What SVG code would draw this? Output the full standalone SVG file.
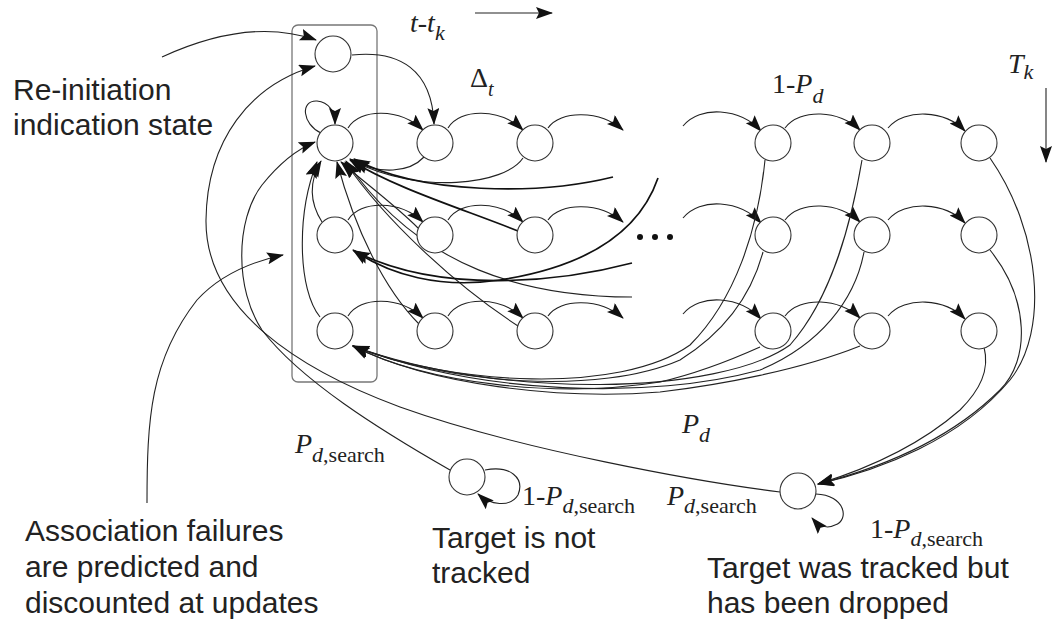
<svg xmlns="http://www.w3.org/2000/svg" width="1060" height="625" viewBox="0 0 1060 625">
<style>
.n{fill:#fff;stroke:#333;stroke-width:1.1}
.c{fill:none;stroke:#222;stroke-width:1.1}
.a{marker-end:url(#ah)}
.t{stroke:#111;stroke-width:1.7}
.lbl{font-family:"Liberation Sans",Arial,sans-serif;font-size:30px;fill:#222}
.m{font-family:"Liberation Serif","Times New Roman",serif;font-size:28px;fill:#222}
.i{font-style:italic}
</style>
<defs>
<marker id="ah" markerWidth="20" markerHeight="14" refX="16" refY="6" orient="auto" markerUnits="userSpaceOnUse"><path d="M0,0 L17,6 L0,12 L3,6 z" fill="#111"/></marker>
</defs>
<rect x="1" y="1" width="1058" height="623" fill="#fff" stroke="none"/>
<rect id="box" x="292" y="25" width="85" height="357" rx="6" fill="none" stroke="#777" stroke-width="1.3"/>
<g id="connectors">
<path class="c a" d="M475,13 L552,13"/>
<path class="c a" d="M1046,88 L1046,162"/>
<path class="c a" d="M348,128 C360,108 400,108 423,130"/>
<path class="c a" d="M448,128 C460,108 500,108 523,130"/>
<path class="c a" d="M548,128 C560,110 600,110 623,130"/>
<path class="c a" d="M683,126 C700,105 740,108 761,131"/>
<path class="c a" d="M785,128 C800,108 840,110 860,130"/>
<path class="c a" d="M888,128 C905,108 945,110 965,131"/>
<path class="c a" d="M348,220 C360,200 400,200 423,222"/>
<path class="c a" d="M448,220 C460,200 500,200 523,222"/>
<path class="c a" d="M548,220 C560,202 600,202 623,222"/>
<path class="c a" d="M683,218 C700,197 740,200 761,223"/>
<path class="c a" d="M785,220 C800,200 840,202 860,222"/>
<path class="c a" d="M888,220 C905,200 945,202 965,223"/>
<path class="c a" d="M348,316 C360,296 400,296 423,318"/>
<path class="c a" d="M448,316 C460,296 500,296 523,318"/>
<path class="c a" d="M548,316 C560,298 600,298 623,318"/>
<path class="c a" d="M683,314 C700,293 740,296 761,319"/>
<path class="c a" d="M785,316 C800,296 840,298 860,318"/>
<path class="c a" d="M888,316 C905,296 945,298 965,319"/>
<path class="c a" d="M162,57 C210,35 265,22 316,40"/>
<path class="c a" d="M352,55 C400,50 432,70 434,124"/>
<path class="c a" d="M321,133 C302,124 300,100 317,101 C329,102 335,112 335,124"/>
<path class="c a" d="M322,222 C308,200 310,180 321,161"/>
<path class="c a" d="M320,317 C298,290 296,215 317,162"/>
<path class="c a" d="M418,228 C395,205 365,183 341,162"/>
<path class="c a t" d="M518,231 C460,208 395,188 350,160"/>
<path class="c a" d="M419,324 C385,290 355,230 337,162"/>
<path class="c a" d="M518,326 C455,285 385,220 345,162"/>
<path class="c a" d="M424,157 C410,172 380,176 350,159"/>
<path class="c a" d="M523,158 C505,185 420,195 353,161"/>
<path class="c a t" d="M613,177 C540,195 420,195 354,159"/>
<path class="c a" d="M632,297 C530,297 420,270 346,161"/>
<path class="c a t" d="M658,178 C640,230 590,266 500,280 C440,289 390,275 353,250"/>
<path class="c a t" d="M632,263 C560,282 440,295 354,251"/>
<path class="c a" d="M765,160 C758,230 735,300 690,345 C620,395 450,385 353,346"/>
<path class="c a" d="M862,160 C850,230 830,300 790,345 C720,395 500,400 353,346"/>
<path class="c a" d="M763,252 C750,300 720,335 680,360 C600,395 450,385 353,346"/>
<path class="c a" d="M864,252 C855,300 820,345 760,370 C650,400 480,395 353,346"/>
<path class="c a" d="M760,347 C720,365 690,375 660,382 C560,398 430,385 353,346"/>
<path class="c a" d="M860,346 C800,370 720,385 660,392 C560,400 430,385 353,346"/>
<path class="c a" d="M990,158 C1040,230 1050,330 1010,380 C960,440 880,470 818,484"/>
<path class="c a" d="M990,250 C1030,300 1030,360 1000,390 C950,440 880,468 818,484"/>
<path class="c a" d="M984,347 C990,370 980,390 960,410 C920,445 870,468 818,484"/>
<path class="c a" d="M780,492 C700,482 520,450 400,407 C300,370 205,310 206,220 C207,140 250,85 315,66"/>
<path class="c a" d="M450,470 C380,430 300,380 262,330 C235,290 235,220 262,185 C278,165 295,150 315,142"/>
<path class="c a" d="M147,503 C147,420 150,360 197,300 C220,275 250,262 283,255"/>
<path class="c a" d="M485,470 C510,465 525,478 518,495 C510,508 490,505 478,494"/>
<path class="c a" d="M816,494 C845,495 850,520 835,525 C825,530 818,525 812,518"/>
</g>
<g id="ellipsis" fill="#111"><circle cx="640" cy="237" r="3"/><circle cx="655" cy="237" r="3"/><circle cx="670" cy="237" r="3"/></g>
<g id="n-reinit"><circle class="n" cx="333" cy="54" r="18"/></g>
<g id="n-1-0"><circle class="n" cx="335" cy="143" r="18"/></g>
<g id="n-1-1"><circle class="n" cx="435" cy="143" r="18"/></g>
<g id="n-1-2"><circle class="n" cx="535" cy="143" r="18"/></g>
<g id="n-1-3"><circle class="n" cx="773" cy="143" r="18"/></g>
<g id="n-1-4"><circle class="n" cx="872" cy="143" r="18"/></g>
<g id="n-1-5"><circle class="n" cx="979" cy="143" r="18"/></g>
<g id="n-2-0"><circle class="n" cx="335" cy="235" r="18"/></g>
<g id="n-2-1"><circle class="n" cx="435" cy="235" r="18"/></g>
<g id="n-2-2"><circle class="n" cx="535" cy="235" r="18"/></g>
<g id="n-2-3"><circle class="n" cx="773" cy="235" r="18"/></g>
<g id="n-2-4"><circle class="n" cx="872" cy="235" r="18"/></g>
<g id="n-2-5"><circle class="n" cx="979" cy="235" r="18"/></g>
<g id="n-3-0"><circle class="n" cx="335" cy="331" r="18"/></g>
<g id="n-3-1"><circle class="n" cx="435" cy="331" r="18"/></g>
<g id="n-3-2"><circle class="n" cx="535" cy="331" r="18"/></g>
<g id="n-3-3"><circle class="n" cx="773" cy="331" r="18"/></g>
<g id="n-3-4"><circle class="n" cx="872" cy="331" r="18"/></g>
<g id="n-3-5"><circle class="n" cx="979" cy="331" r="18"/></g>
<g id="n-nottracked"><circle class="n" cx="467" cy="477" r="18"/></g>
<g id="n-dropped"><circle class="n" cx="798" cy="491" r="18"/></g>
<g id="labels">
<text class="lbl" x="13" y="100">Re-initiation</text>
<text class="lbl" x="13" y="135">indication state</text>
<text class="lbl" x="25" y="541">Association failures</text>
<text class="lbl" x="25" y="577">are predicted and</text>
<text class="lbl" x="25" y="613">discounted at updates</text>
<text class="lbl" x="432" y="548">Target is not</text>
<text class="lbl" x="432" y="583">tracked</text>
<text class="lbl" x="707" y="578">Target was tracked but</text>
<text class="lbl" x="707" y="613">has been dropped</text>
<text class="m i" x="410" y="32">t-t<tspan dy="8" font-size="22">k</tspan></text>
<text class="m" x="470" y="87" font-size="26">Δ<tspan class="i" dy="9" font-size="20">t</tspan></text>
<text class="m" x="772" y="93">1-<tspan class="i">P</tspan><tspan class="i" dy="10" font-size="22">d</tspan></text>
<text class="m i" x="1008" y="73">T<tspan dy="6" font-size="22">k</tspan></text>
<text class="m i" x="682" y="433">P<tspan dy="9" font-size="22">d</tspan></text>
<text class="m" x="295" y="453"><tspan class="i">P</tspan><tspan dy="9" font-size="22"><tspan class="i">d</tspan>,search</tspan></text>
<text class="m" x="522" y="505">1-<tspan class="i">P</tspan><tspan dy="8" font-size="22"><tspan class="i">d</tspan>,search</tspan></text>
<text class="m" x="667" y="505"><tspan class="i">P</tspan><tspan dy="8" font-size="22"><tspan class="i">d</tspan>,search</tspan></text>
<text class="m" x="870" y="538">1-<tspan class="i">P</tspan><tspan dy="8" font-size="22"><tspan class="i">d</tspan>,search</tspan></text>
</g>
</svg>
